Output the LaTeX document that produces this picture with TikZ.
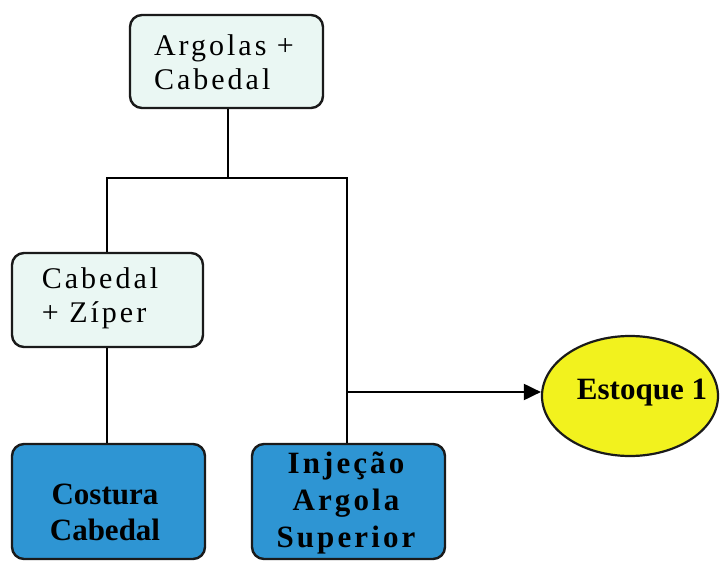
\documentclass[tikz,border=0pt]{standalone}
\usepackage{fontspec}
\setmainfont{Liberation Serif}
\newfontfamily\spacedfont[LetterSpace=10]{Liberation Serif}
\newfontfamily\boldspacedfont[LetterSpace=10]{Liberation Serif}
\usetikzlibrary{arrows.meta,shapes.geometric}
\definecolor{lightbox}{HTML}{EAF7F3}
\definecolor{bluebox}{HTML}{2E95D3}
\definecolor{yellowfill}{HTML}{F2F21E}
\definecolor{edge}{HTML}{1A1A1A}
\tikzset{
  lightnode/.style={draw=edge, line width=2.4pt, fill=lightbox, rounded corners=12pt,
    inner sep=0pt},
  lighttext/.style={align=left, font=\spacedfont\fontsize{30}{34}\selectfont, inner sep=0pt},
  bluenode/.style={draw=edge, line width=2.4pt, fill=bluebox, rounded corners=12pt,
    inner sep=0pt},
  bluetext/.style={align=center, font=\bfseries\fontsize{31}{36}\selectfont, inner sep=0pt},
  conn/.style={draw=black, line width=2pt},
}
\begin{document}
\begin{tikzpicture}[x=1pt,y=-1pt]
\useasboundingbox (0,0) rectangle (720,561);
\node[lightnode, minimum width=193pt, minimum height=93pt] (top) at (226.5,61.5) {};
\node[lighttext] (toptxt) at (224,62) {Argolas +\\Cabedal};
\node[lightnode, minimum width=191pt, minimum height=94pt] (cab) at (107.5,300) {};
\node[lighttext] (cabtxt) at (100,298) {Cabedal\\+ Zíper};
\node[bluenode, minimum width=193pt, minimum height=115pt] (cos) at (108.5,501.5) {};
\node[bluetext] (costxt) at (105,512) {Costura\\Cabedal};
\node[bluenode, minimum width=193pt, minimum height=115pt] (inj) at (348.5,501.5) {};
\node[bluetext, font=\boldspacedfont\bfseries\fontsize{31}{37}\selectfont] (injtxt) at (346,503) {Injeção\\Argola\\Superior};
\node[draw=edge, line width=2.2pt, fill=yellowfill, ellipse, minimum width=176pt, minimum height=120pt, inner sep=0pt] (est) at (630,396) {};
\node[font=\bfseries\fontsize{31}{36}\selectfont, inner sep=0pt] (esttxt) at (642,393) {Estoque 1};
\coordinate (jm) at (228,178);
\coordinate (jr) at (347,178);
\coordinate (jl) at (107,178);
\draw[conn] (top.south -| jm) -- (jm);
\draw[conn] (cab.north -| jl) -- (jl) -- (jr) -- (inj.north -| jr);
\draw[conn] (cab.south -| jl) -- (cos.north -| jl);
\draw[conn, -{Triangle[length=17pt,width=16pt]}] (jr |- 0,392) -- (est.west |- 0,392);
\end{tikzpicture}
\end{document}
